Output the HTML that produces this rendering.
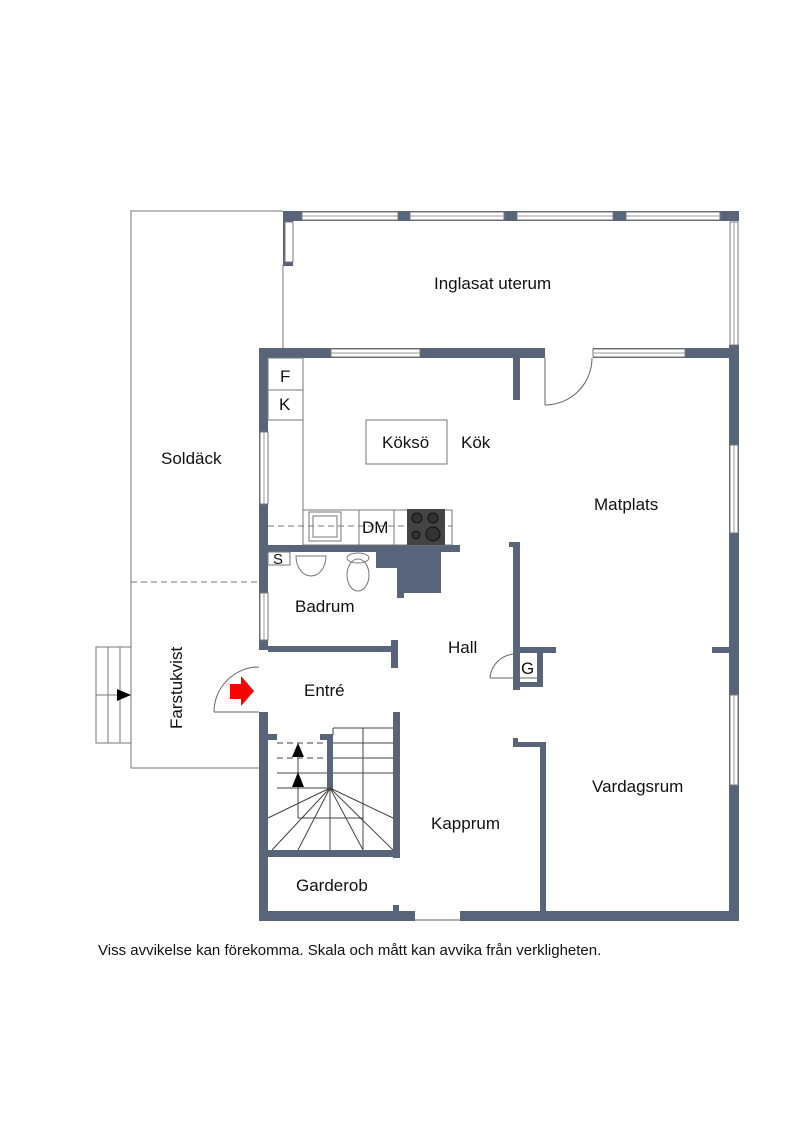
<!DOCTYPE html>
<html><head><meta charset="utf-8"><style>
html,body{margin:0;padding:0;background:#fff;}
svg{display:block;}
text{font-family:"Liberation Sans",sans-serif;fill:#111;}
</style></head><body>
<svg width="800" height="1131" viewBox="0 0 800 1131" xmlns="http://www.w3.org/2000/svg">
<g fill="none" stroke="#777" stroke-width="1">
<polyline points="283,211 131,211 131,768 259,768"/>
<line x1="131" y1="582" x2="259" y2="582" stroke-dasharray="6,4"/>
<rect x="96" y="647" width="35" height="96"/>
<line x1="108" y1="647" x2="108" y2="743"/><line x1="120" y1="647" x2="120" y2="743"/>
<line x1="96" y1="695" x2="131" y2="695"/>
<line x1="283" y1="265" x2="283" y2="348"/>
</g>
<polygon points="117,689 131,695 117,701" fill="#000"/>
<g fill="#58647a">
<rect x="283" y="211" width="456" height="10"/>
<rect x="283" y="211" width="10" height="55"/>
<rect x="729" y="211" width="10" height="10"/>
<rect x="259" y="348" width="286" height="10"/>
<rect x="593" y="348" width="146" height="10"/>
<rect x="259" y="348" width="9" height="302"/>
<rect x="259" y="712" width="9" height="209"/>
<rect x="729" y="345" width="10" height="576"/>
<rect x="259" y="911" width="156" height="10"/>
<rect x="460" y="911" width="279" height="10"/>
<rect x="393" y="905" width="6" height="6"/>
<rect x="513" y="358" width="7" height="42"/>
<rect x="268" y="545" width="192" height="7"/>
<polygon points="376,552 441,552 441,593 404,593 404,598 397,598 397,568 376,568"/>
<rect x="268" y="646" width="129" height="6"/>
<rect x="391" y="640" width="7" height="28"/>
<rect x="513" y="542" width="7" height="148"/>
<rect x="509" y="542" width="6" height="5"/>
<rect x="520" y="647" width="36" height="6"/>
<rect x="537" y="653" width="6" height="34"/>
<rect x="513" y="682" width="30" height="5"/>
<rect x="712" y="647" width="18" height="6"/>
<rect x="540" y="742" width="6" height="172"/>
<rect x="513" y="742" width="33" height="5"/>
<rect x="513" y="738" width="5" height="6"/>
<rect x="393" y="712" width="7" height="146"/>
<rect x="268" y="850" width="131" height="7"/>
<rect x="268" y="734" width="9" height="6"/>
<rect x="320" y="734" width="13" height="6"/>
<rect x="327" y="734" width="6" height="56"/>
</g>
<g fill="#fff" stroke="#777" stroke-width="1">
<rect x="302" y="212" width="96" height="8"/><rect x="410" y="212" width="94" height="8"/>
<rect x="517" y="212" width="96" height="8"/><rect x="626" y="212" width="94" height="8"/>
<rect x="730" y="222" width="8" height="123"/>
<rect x="285" y="222" width="8" height="40"/>
<rect x="331" y="349" width="89" height="8"/>
<rect x="593" y="349" width="92" height="8"/>
<rect x="260" y="432" width="8" height="72"/>
<rect x="260" y="593" width="8" height="47"/>
<rect x="730" y="445" width="8" height="88"/>
<rect x="730" y="695" width="8" height="90"/>
</g>
<g stroke="#999" stroke-width="1">
<line x1="302" y1="216" x2="398" y2="216"/><line x1="410" y1="216" x2="504" y2="216"/>
<line x1="517" y1="216" x2="613" y2="216"/><line x1="626" y1="216" x2="720" y2="216"/>
<line x1="734" y1="222" x2="734" y2="345"/><line x1="331" y1="353" x2="420" y2="353"/>
<line x1="593" y1="353" x2="685" y2="353"/><line x1="264" y1="432" x2="264" y2="504"/>
<line x1="264" y1="593" x2="264" y2="640"/><line x1="734" y1="445" x2="734" y2="533"/>
<line x1="734" y1="695" x2="734" y2="785"/>
</g>
<g fill="none" stroke="#666" stroke-width="1">
<line x1="545" y1="358" x2="545" y2="405"/><path d="M545,405 A47,47 0 0 0 592,358"/>
<line x1="214" y1="712" x2="259" y2="712"/><path d="M214,712 A45,45 0 0 1 259,667"/>
<line x1="490" y1="678" x2="537" y2="678"/><path d="M490,678 A26,26 0 0 1 516,654"/>
<line x1="415" y1="920" x2="460" y2="920"/>
</g>
<polygon points="241,676 254,691 241,706 241,699 230,699 230,684 241,684" fill="#f00"/>
<g fill="none" stroke="#777" stroke-width="1">
<rect x="268" y="358" width="35" height="32"/><rect x="268" y="390" width="35" height="30"/>
<line x1="303" y1="420" x2="303" y2="510"/>
<rect x="303" y="510" width="149" height="35"/>
<line x1="359" y1="510" x2="359" y2="545"/><line x1="394" y1="510" x2="394" y2="545"/>
<rect x="366" y="420" width="81" height="44"/>
<rect x="309" y="512" width="32" height="29"/><rect x="313" y="516" width="24" height="21"/>
<line x1="268" y1="526" x2="452" y2="526" stroke-dasharray="6,4"/>
<rect x="268" y="552" width="22" height="13"/>
<path d="M296,556 A15,20 0 0 0 326,556 Z"/>
<ellipse cx="358" cy="575" rx="11" ry="16"/><ellipse cx="358" cy="558" rx="11" ry="5"/>
</g>
<rect x="407" y="509" width="38" height="36" fill="#444"/>
<g fill="#333" stroke="#111"><circle cx="417" cy="518" r="5"/><circle cx="433" cy="518" r="5"/><circle cx="416" cy="535" r="4"/><circle cx="433" cy="534" r="7"/></g>
<g fill="none" stroke="#444" stroke-width="1">
<line x1="277" y1="743" x2="327" y2="743" stroke-dasharray="6,4"/>
<line x1="277" y1="758" x2="327" y2="758" stroke-dasharray="6,4"/>
<line x1="277" y1="773" x2="327" y2="773"/><line x1="277" y1="788" x2="327" y2="788"/>
<line x1="333" y1="728" x2="393" y2="728"/><line x1="333" y1="728" x2="333" y2="735"/>
<line x1="363" y1="728" x2="363" y2="850"/>
<line x1="333" y1="743" x2="393" y2="743"/><line x1="333" y1="758" x2="393" y2="758"/><line x1="333" y1="773" x2="393" y2="773"/>
<line x1="298" y1="788" x2="298" y2="818"/><line x1="298" y1="818" x2="363" y2="818"/>
<line x1="330" y1="788" x2="268" y2="818"/><line x1="330" y1="788" x2="298" y2="850"/>
<line x1="330" y1="788" x2="272" y2="850"/><line x1="330" y1="788" x2="330" y2="850"/>
<line x1="330" y1="788" x2="363" y2="850"/><line x1="330" y1="788" x2="393" y2="850"/>
<line x1="330" y1="788" x2="393" y2="818"/><line x1="298" y1="758" x2="298" y2="788"/>
</g>
<polygon points="298,743 292,757 304,757" fill="#000"/><polygon points="298,772 292,787 304,787" fill="#000"/>
<g font-size="17">
<text x="434" y="289">Inglasat uterum</text>
<text x="161" y="464">Soldäck</text>
<text x="280" y="382">F</text><text x="279" y="410">K</text>
<text x="382" y="448">Köksö</text><text x="461" y="448">Kök</text>
<text x="594" y="510">Matplats</text>
<text x="362" y="533">DM</text>
<text x="273" y="564" font-size="15">S</text>
<text x="295" y="612">Badrum</text>
<text x="448" y="653">Hall</text>
<text x="521" y="674">G</text>
<text x="304" y="696">Entré</text>
<text x="592" y="792">Vardagsrum</text>
<text x="431" y="829">Kapprum</text>
<text x="296" y="891">Garderob</text>
<text transform="translate(182,729) rotate(-90)">Farstukvist</text>
<text x="98" y="955" font-size="15">Viss avvikelse kan förekomma. Skala och mått kan avvika från verkligheten.</text>
</g>
</svg>
</body></html>
